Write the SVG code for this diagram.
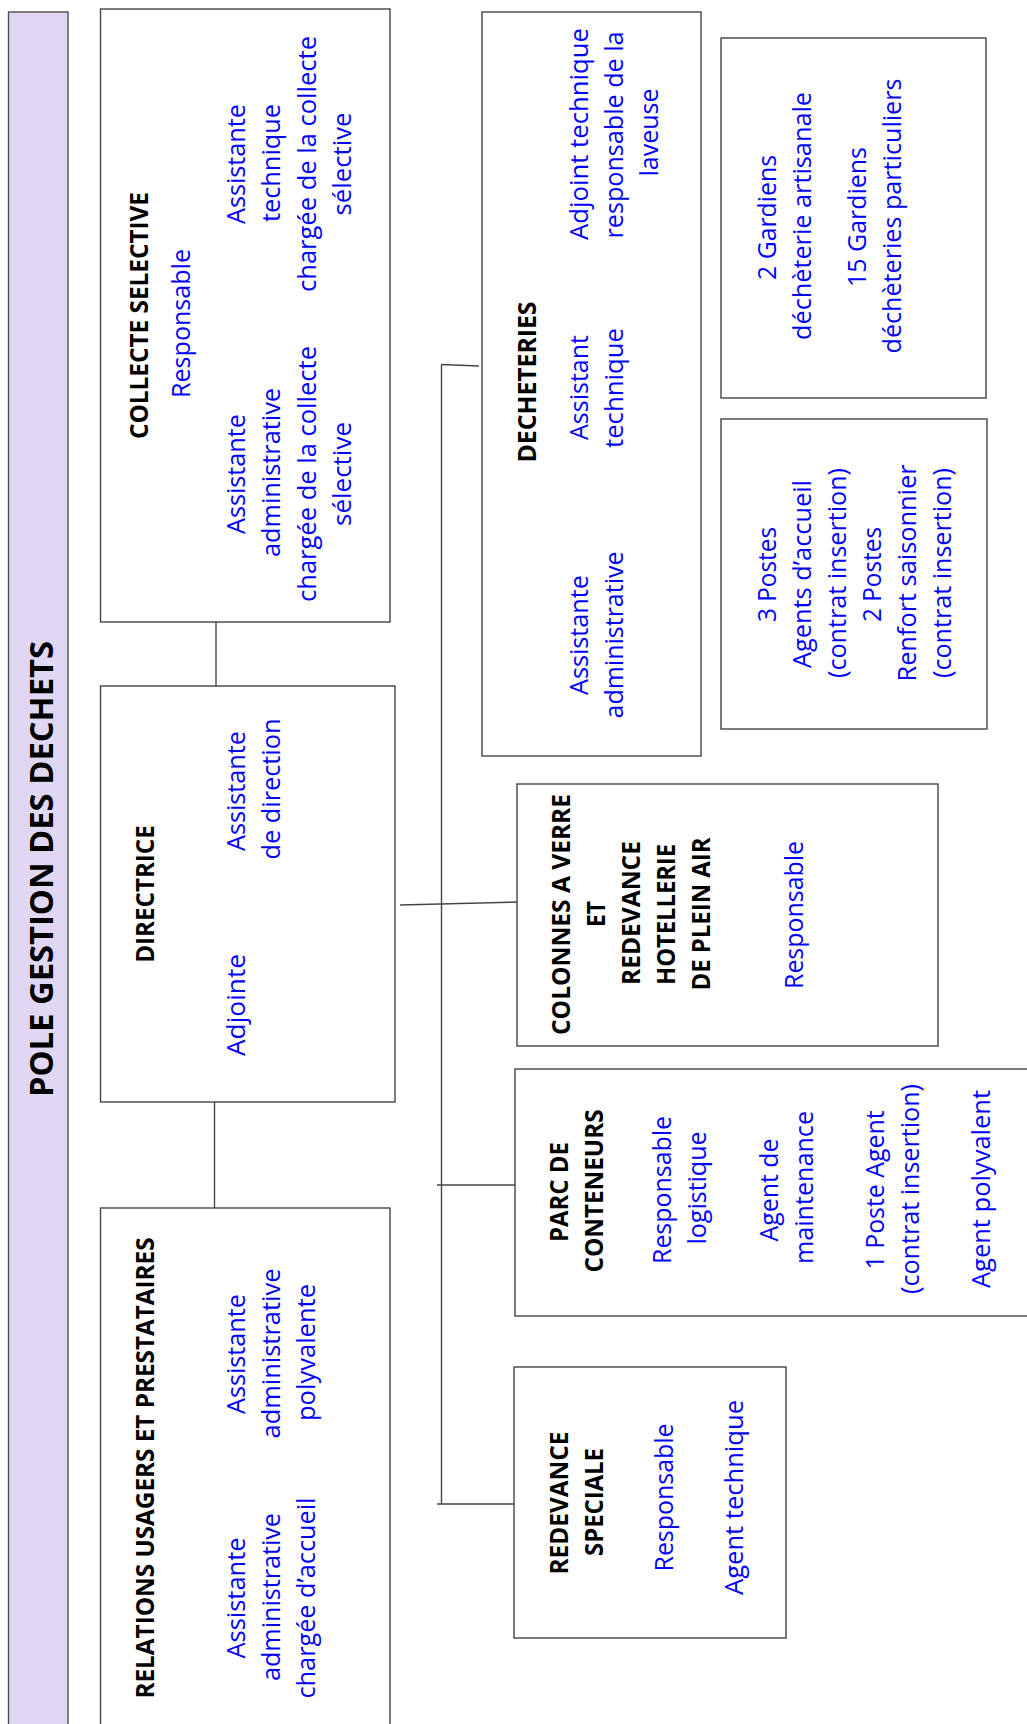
<svg xmlns="http://www.w3.org/2000/svg" width="1027" height="1724" viewBox="0 0 1027 1724">
<style>
.box{fill:#ffffff;stroke:#454545;stroke-width:1.4}
.c{stroke:#454545;stroke-width:1.4;fill:none}
.t{font-family:"Open Sans","Liberation Sans",sans-serif;font-weight:700;font-size:33px;fill:#000;text-anchor:middle}
.h{font-family:"Open Sans","Liberation Sans",sans-serif;font-weight:700;font-size:24.5px;fill:#000;text-anchor:middle}
.b{font-family:"Open Sans","Liberation Sans",sans-serif;font-size:25px;fill:#0000ff;text-anchor:middle}
</style>
<rect width="1027" height="1724" fill="#ffffff"/>

<g id="title">
<rect x="8.5" y="12" width="59.5" height="1720" fill="#e0d7f3" stroke="#4d4d4d" stroke-width="1.4"/>
<text class="t" transform="translate(53,869) rotate(-90)" textLength="456" lengthAdjust="spacingAndGlyphs">POLE GESTION DES DECHETS</text>
</g>

<g id="connectors">
<line class="c" x1="216" y1="622" x2="216" y2="686"/>
<line class="c" x1="214.5" y1="1102" x2="214.5" y2="1208"/>
<line class="c" x1="400" y1="905" x2="517" y2="902"/>
<line class="c" x1="441.5" y1="365" x2="441.5" y2="1504"/>
<line class="c" x1="441" y1="364.5" x2="479" y2="366"/>
<line class="c" x1="437" y1="1185" x2="515" y2="1185"/>
<line class="c" x1="437" y1="1504" x2="514" y2="1504"/>
</g>

<g id="collecte">
<rect class="box" x="100.5" y="9" width="289.5" height="613"/>
<text class="h" transform="translate(148,315.5) rotate(-90)" textLength="247" lengthAdjust="spacingAndGlyphs">COLLECTE SELECTIVE</text>
<text class="b" transform="translate(190,323.5) rotate(-90)" textLength="149" lengthAdjust="spacingAndGlyphs">Responsable</text>
<text class="b" transform="translate(245,474) rotate(-90)" textLength="120" lengthAdjust="spacingAndGlyphs">Assistante</text>
<text class="b" transform="translate(280,472.5) rotate(-90)" textLength="169" lengthAdjust="spacingAndGlyphs">administrative</text>
<text class="b" transform="translate(316,474) rotate(-90)" textLength="256" lengthAdjust="spacingAndGlyphs">chargée de la collecte</text>
<text class="b" transform="translate(351,474) rotate(-90)" textLength="104" lengthAdjust="spacingAndGlyphs">sélective</text>
<text class="b" transform="translate(245,164) rotate(-90)" textLength="120" lengthAdjust="spacingAndGlyphs">Assistante</text>
<text class="b" transform="translate(280,163) rotate(-90)" textLength="118" lengthAdjust="spacingAndGlyphs">technique</text>
<text class="b" transform="translate(316,164) rotate(-90)" textLength="256" lengthAdjust="spacingAndGlyphs">chargée de la collecte</text>
<text class="b" transform="translate(351,164) rotate(-90)" textLength="103" lengthAdjust="spacingAndGlyphs">sélective</text>
</g>

<g id="directrice">
<rect class="box" x="100.5" y="686" width="294.5" height="416"/>
<text class="h" transform="translate(154,894) rotate(-90)" textLength="137.5" lengthAdjust="spacingAndGlyphs">DIRECTRICE</text>
<text class="b" transform="translate(245,791) rotate(-90)" textLength="120" lengthAdjust="spacingAndGlyphs">Assistante</text>
<text class="b" transform="translate(280,789) rotate(-90)" textLength="141" lengthAdjust="spacingAndGlyphs">de direction</text>
<text class="b" transform="translate(245,1005) rotate(-90)" textLength="102" lengthAdjust="spacingAndGlyphs">Adjointe</text>
</g>

<g id="relations">
<rect class="box" x="100.5" y="1208" width="289.5" height="530"/>
<text class="h" transform="translate(154,1468) rotate(-90)" textLength="461" lengthAdjust="spacingAndGlyphs">RELATIONS USAGERS ET PRESTATAIRES</text>
<text class="b" transform="translate(245,1354) rotate(-90)" textLength="120" lengthAdjust="spacingAndGlyphs">Assistante</text>
<text class="b" transform="translate(280,1353.5) rotate(-90)" textLength="170" lengthAdjust="spacingAndGlyphs">administrative</text>
<text class="b" transform="translate(315,1352.5) rotate(-90)" textLength="137" lengthAdjust="spacingAndGlyphs">polyvalente</text>
<text class="b" transform="translate(245,1598) rotate(-90)" textLength="121" lengthAdjust="spacingAndGlyphs">Assistante</text>
<text class="b" transform="translate(280,1597) rotate(-90)" textLength="168" lengthAdjust="spacingAndGlyphs">administrative</text>
<text class="b" transform="translate(315,1598) rotate(-90)" textLength="201" lengthAdjust="spacingAndGlyphs">chargée d’accueil</text>
</g>

<g id="decheteries">
<rect class="box" x="482" y="12" width="219" height="744"/>
<text class="h" transform="translate(536,382) rotate(-90)" textLength="161" lengthAdjust="spacingAndGlyphs">DECHETERIES</text>
<text class="b" transform="translate(588,134) rotate(-90)" textLength="212" lengthAdjust="spacingAndGlyphs">Adjoint technique</text>
<text class="b" transform="translate(623,135) rotate(-90)" textLength="207" lengthAdjust="spacingAndGlyphs">responsable de la</text>
<text class="b" transform="translate(658,132.5) rotate(-90)" textLength="88" lengthAdjust="spacingAndGlyphs">laveuse</text>
<text class="b" transform="translate(588,387.5) rotate(-90)" textLength="105" lengthAdjust="spacingAndGlyphs">Assistant</text>
<text class="b" transform="translate(623,388) rotate(-90)" textLength="120" lengthAdjust="spacingAndGlyphs">technique</text>
<text class="b" transform="translate(588,635) rotate(-90)" textLength="120" lengthAdjust="spacingAndGlyphs">Assistante</text>
<text class="b" transform="translate(623,635) rotate(-90)" textLength="167" lengthAdjust="spacingAndGlyphs">administrative</text>
</g>

<g id="gardiens">
<rect class="box" x="721" y="38" width="265" height="360"/>
<text class="b" transform="translate(776,217.5) rotate(-90)" textLength="125" lengthAdjust="spacingAndGlyphs">2 Gardiens</text>
<text class="b" transform="translate(811,216) rotate(-90)" textLength="248" lengthAdjust="spacingAndGlyphs">déchèterie artisanale</text>
<text class="b" transform="translate(866,217) rotate(-90)" textLength="140" lengthAdjust="spacingAndGlyphs">15 Gardiens</text>
<text class="b" transform="translate(901,216) rotate(-90)" textLength="275" lengthAdjust="spacingAndGlyphs">déchèteries particuliers</text>
</g>

<g id="postes">
<rect class="box" x="721" y="419" width="266" height="310"/>
<text class="b" transform="translate(776,574.5) rotate(-90)" textLength="95" lengthAdjust="spacingAndGlyphs">3 Postes</text>
<text class="b" transform="translate(811,574) rotate(-90)" textLength="188" lengthAdjust="spacingAndGlyphs">Agents d’accueil</text>
<text class="b" transform="translate(846,573) rotate(-90)" textLength="210" lengthAdjust="spacingAndGlyphs">(contrat insertion)</text>
<text class="b" transform="translate(881,574.5) rotate(-90)" textLength="95" lengthAdjust="spacingAndGlyphs">2 Postes</text>
<text class="b" transform="translate(916,573) rotate(-90)" textLength="217" lengthAdjust="spacingAndGlyphs">Renfort saisonnier</text>
<text class="b" transform="translate(951,573) rotate(-90)" textLength="210" lengthAdjust="spacingAndGlyphs">(contrat insertion)</text>
</g>

<g id="colonnes">
<rect class="box" x="517" y="784" width="421" height="262"/>
<text class="h" transform="translate(570,914.5) rotate(-90)" textLength="241" lengthAdjust="spacingAndGlyphs">COLONNES A VERRE</text>
<text class="h" transform="translate(605,914) rotate(-90)" textLength="26" lengthAdjust="spacingAndGlyphs">ET</text>
<text class="h" transform="translate(640,913) rotate(-90)" textLength="144" lengthAdjust="spacingAndGlyphs">REDEVANCE</text>
<text class="h" transform="translate(675,914.5) rotate(-90)" textLength="141" lengthAdjust="spacingAndGlyphs">HOTELLERIE</text>
<text class="h" transform="translate(710,914) rotate(-90)" textLength="153" lengthAdjust="spacingAndGlyphs">DE PLEIN AIR</text>
<text class="b" transform="translate(803,915) rotate(-90)" textLength="148" lengthAdjust="spacingAndGlyphs">Responsable</text>
</g>

<g id="parc">
<rect class="box" x="515" y="1069" width="520" height="247"/>
<text class="h" transform="translate(568,1192) rotate(-90)" textLength="100" lengthAdjust="spacingAndGlyphs">PARC DE</text>
<text class="h" transform="translate(603,1191) rotate(-90)" textLength="163" lengthAdjust="spacingAndGlyphs">CONTENEURS</text>
<text class="b" transform="translate(671,1190) rotate(-90)" textLength="148" lengthAdjust="spacingAndGlyphs">Responsable</text>
<text class="b" transform="translate(706,1188) rotate(-90)" textLength="113" lengthAdjust="spacingAndGlyphs">logistique</text>
<text class="b" transform="translate(778,1190) rotate(-90)" textLength="103" lengthAdjust="spacingAndGlyphs">Agent de</text>
<text class="b" transform="translate(813,1187.5) rotate(-90)" textLength="153" lengthAdjust="spacingAndGlyphs">maintenance</text>
<text class="b" transform="translate(884,1190) rotate(-90)" textLength="159" lengthAdjust="spacingAndGlyphs">1 Poste Agent</text>
<text class="b" transform="translate(919,1189) rotate(-90)" textLength="210" lengthAdjust="spacingAndGlyphs">(contrat insertion)</text>
<text class="b" transform="translate(990,1189) rotate(-90)" textLength="198" lengthAdjust="spacingAndGlyphs">Agent polyvalent</text>
</g>

<g id="redevance">
<rect class="box" x="514" y="1367" width="272" height="271"/>
<text class="h" transform="translate(568,1503) rotate(-90)" textLength="143" lengthAdjust="spacingAndGlyphs">REDEVANCE</text>
<text class="h" transform="translate(603,1502) rotate(-90)" textLength="108" lengthAdjust="spacingAndGlyphs">SPECIALE</text>
<text class="b" transform="translate(673,1497.5) rotate(-90)" textLength="148" lengthAdjust="spacingAndGlyphs">Responsable</text>
<text class="b" transform="translate(743,1497.5) rotate(-90)" textLength="195" lengthAdjust="spacingAndGlyphs">Agent technique</text>
</g>
</svg>
